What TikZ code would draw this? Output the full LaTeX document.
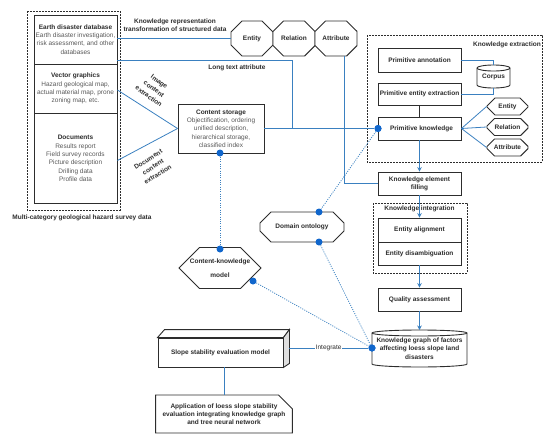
\documentclass[tikz,border=0pt]{standalone}
\usepackage{fontspec}
\setmainfont{Liberation Sans}
\usetikzlibrary{shapes.geometric,shapes.misc,arrows.meta}
\definecolor{lnblue}{RGB}{58,128,192}
\definecolor{dotblue}{RGB}{16,102,204}
\definecolor{bdr}{RGB}{45,45,45}
\definecolor{txt}{RGB}{90,90,90}
\begin{document}
\begin{tikzpicture}[x=1pt,y=1pt,
  every node/.style={font=\fontsize{6.5}{8.3}\selectfont, inner sep=0pt, align=center},
  box/.style={draw=bdr, line width=0.9pt, fill=white, minimum width=83pt},
  bbox/.style={box, font=\bfseries\fontsize{6.5}{8.3}\selectfont, text=bdr},
  oct/.style={chamfered rectangle, draw=bdr, line width=0.9pt, fill=white, font=\bfseries\fontsize{6.5}{8.3}\selectfont, text=bdr},
  conn/.style={draw=lnblue, line width=0.8pt},
  arr/.style={conn, -{Stealth[length=4.5pt,width=4.5pt]}},
  dotl/.style={draw=lnblue, line width=0.8pt, dash pattern=on 1pt off 1.3pt},
  dot/.style={circle, fill=dotblue, minimum size=7pt, inner sep=0pt},
  frame/.style={draw=bdr, line width=0.9pt, dash pattern=on 1.6pt off 1.4pt},
  lab/.style={font=\bfseries\fontsize{6.5}{8.3}\selectfont, text=bdr},
  rlab/.style={font=\bfseries\fontsize{6.5}{9}\selectfont, text=bdr},
  cylshape/.style={draw=bdr, line width=0.9pt, fill=white}
]
\useasboundingbox (0,0) rectangle (550,-442);

% ---------- left data block ----------
\draw[frame] (27,-11) rectangle (120,-210);
\node[box, minimum height=49pt, text=txt] (edb) at (75.5,-39.5)
  {\textcolor{bdr}{\textbf{Earth disaster database}}\\Earth disaster investigation,\\risk assessment, and other\\databases};
\node[box, minimum height=49pt, text=txt] (vg) at (75.5,-88.5)
  {\textcolor{bdr}{\textbf{Vector graphics}}\\Hazard geological map,\\actual material map, prone\\zoning map, etc.};
\node[box, minimum height=90pt, text=txt] (doc) at (75.5,-158.5)
  {\textcolor{bdr}{\textbf{Documents}}\\Results report\\Field survey records\\Picture description\\Drilling data\\Profile data};
\node[lab] (mlab) at (82,-217.5) {Multi-category geological hazard survey data};

% ---------- content storage ----------
\node[box, minimum width=86pt, minimum height=49pt, text=txt] (cs) at (221,-128.5)
  {\textcolor{bdr}{\textbf{Content storage}}\\Objectification, ordering\\unified description,\\hierarchical storage,\\classified index};

% ---------- top octagons ----------
\node[oct, minimum width=42pt, minimum height=35pt, chamfered rectangle xsep=8pt, chamfered rectangle ysep=8pt] (ent) at (252,-38.5) {Entity};
\node[oct, minimum width=42pt, minimum height=35pt, chamfered rectangle xsep=8pt, chamfered rectangle ysep=8pt] (rel) at (294,-38.5) {Relation};
\node[oct, minimum width=42pt, minimum height=35pt, chamfered rectangle xsep=8pt, chamfered rectangle ysep=8pt] (att) at (336,-38.5) {Attribute};

\node[lab] (krlab) at (175,-25) {Knowledge representation\\transformation of structured data};
\node[lab] (ltlab) at (237,-68) {Long text attribute};

% ---------- knowledge extraction ----------
\draw[frame] (367,-35) rectangle (542,-162);
\node[lab] (kelab) at (507,-45) {Knowledge extraction};
\node[bbox, minimum height=24pt] (pa) at (419.5,-60) {Primitive annotation};
\node[bbox, minimum height=22pt] (pee) at (419.5,-94) {Primitive entity extraction};
\node[bbox, minimum height=23pt] (pk) at (419.5,-128.5) {\hspace*{4pt}Primitive knowledge};

% corpus cylinder
\draw[cylshape] (477,-68) -- (477,-85) arc[start angle=180,end angle=360,x radius=16.5,y radius=3] -- (510,-68) arc[start angle=0,end angle=180,x radius=16.5,y radius=3] -- cycle;
\draw[draw=bdr, line width=0.9pt] (477,-68) arc[start angle=180,end angle=360,x radius=16.5,y radius=3];
\node[lab, minimum width=33pt, minimum height=23pt] (corpus) at (493.5,-76.5) {\raisebox{-1pt}{Corpus}};

\node[oct, minimum width=41pt, minimum height=17pt, chamfered rectangle xsep=5pt, chamfered rectangle ysep=5pt] (se) at (507.5,-106.5) {Entity};
\node[oct, minimum width=41pt, minimum height=17pt, chamfered rectangle xsep=5pt, chamfered rectangle ysep=5pt] (sr) at (507.5,-127) {Relation};
\node[oct, minimum width=41pt, minimum height=17pt, chamfered rectangle xsep=5pt, chamfered rectangle ysep=5pt] (sa) at (507.5,-147.5) {Attribute};

% ---------- right column ----------
\node[bbox, minimum height=23pt] (kef) at (419.5,-183.5) {Knowledge element\\filling};
\draw[frame] (373,-203) rectangle (467,-273);
\node[lab] (kilab) at (419.5,-209) {Knowledge integration};
\node[bbox, minimum height=24pt] (ea) at (419.5,-230) {Entity alignment};
\node[bbox, minimum height=23pt] (ed) at (419.5,-253.5) {Entity disambiguation};
\node[bbox, minimum height=23pt] (qa) at (419.5,-299.5) {Quality assessment};

% knowledge graph cylinder
\draw[cylshape] (372,-333) -- (372,-364) arc[start angle=180,end angle=360,x radius=47.5,y radius=3] -- (467,-333) arc[start angle=0,end angle=180,x radius=47.5,y radius=3] -- cycle;
\draw[draw=bdr, line width=0.9pt] (372,-333) arc[start angle=180,end angle=360,x radius=47.5,y radius=3];
\node[lab, minimum width=95pt, minimum height=37pt] (kg) at (419.5,-348.5) {\raisebox{-2.5pt}{\parbox{95pt}{\centering Knowledge graph of factors\\affecting loess slope land\\disasters}}};

% ---------- ontology / content-knowledge ----------
\node[oct, minimum width=84pt, minimum height=30pt, chamfered rectangle xsep=14pt, chamfered rectangle ysep=8pt] (do) at (302,-227) {Domain ontology};
\node[oct, minimum width=82pt, minimum height=38pt, chamfered rectangle xsep=14pt, chamfered rectangle ysep=11pt] (ckm) at (220,-268) {Content-knowledge\\[6pt]model};

% ---------- slope stability ----------
\node[bbox, minimum width=125pt, minimum height=29pt] (ssem) at (220.5,-352.5) {Slope stability evaluation model};
\draw[draw=bdr, line width=0.9pt, fill=white] (ssem.north west) -- ++(7,8) -- ([shift={(6,8)}]ssem.north east) -- (ssem.north east) -- cycle;
\draw[draw=bdr, line width=0.9pt, fill=gray!25] (ssem.north east) -- ++(6,8) -- ([shift={(6,4)}]ssem.south east) -- (ssem.south east) -- cycle;
\coordinate (ssemside) at (289,-348);
\node[chamfered rectangle, chamfered rectangle corners=north east, chamfered rectangle xsep=7pt, chamfered rectangle ysep=7pt, draw=bdr, line width=0.9pt, fill=white, minimum width=132pt, minimum height=38pt, font=\bfseries\fontsize{6.5}{8.3}\selectfont, text=bdr] (app) at (224,-414)
  {Application of loess slope stability\\evaluation integrating knowledge graph\\and tree neural network};

% ---------- dots ----------
\node[dot] (pkd) at (378,-128.5) {};
\node[dot] (csd) at (220,-153) {};
\node[dot] (ckt) at (220,-249) {};
\node[dot] (ckd) at (253,-281) {};
\node[dot] (dot1) at (319,-212) {};
\node[dot] (dob) at (319,-242) {};
\node[dot] (kgd) at (372,-348) {};

% ---------- connectors ----------
\draw[conn] (edb.east |- ent.west) -- (ent.west);
\draw[conn] ([yshift=-20.5pt]edb.east) -| (292,-128.5);
\draw[conn] (cs.east) -- (pkd);
\draw[conn] ([xshift=8pt]att.south) |- (kef.west);
\draw[conn] ([yshift=-1.5pt]vg.east) -- (cs.west);
\draw[conn] ([yshift=-2pt]doc.east) -- (cs.west);
\node[rlab, rotate=-36] (iclab) at (154,-89) {Image\\content\\extraction};
\node[rlab, rotate=32] (dclab) at (153,-167) {Document\\content\\extraction};

\draw[conn] (pa.east) -| (corpus.north);
\draw[conn] (pee.east) -| (corpus.south);
\draw[draw=bdr, line width=0.9pt] (pee.south) -- (pk.north);
\draw[conn] (pk.east) -- (se.west);
\draw[conn] (pk.east) -- (sr.west);
\draw[conn] (pk.east) -- (sa.west);
\draw[arr] (pk.south) -- (kef.north);
\draw[arr] (kef.south) -- (ea.north);
\draw[arr] (ed.south) -- (qa.north);
\draw[arr] (qa.south) -- (419.5,-330);

\draw[dotl] (pkd) -- (dot1);
\draw[dotl] (csd) -- (ckt);
\draw[dotl] (ckd) -- (kgd);
\draw[dotl] (dob) -- (kgd);

\draw[conn] (ssemside) -- node[fill=white, inner xsep=0.5pt, inner ysep=1pt, font=\fontsize{6.5}{8.3}\selectfont, text=bdr] {Integrate} (kgd);
\draw[conn] (app.north) -- (app.north |- ssem.south);

% redraw dots on top
\node[dot] at (pkd) {};
\node[dot] at (kgd) {};
\end{tikzpicture}
\end{document}
